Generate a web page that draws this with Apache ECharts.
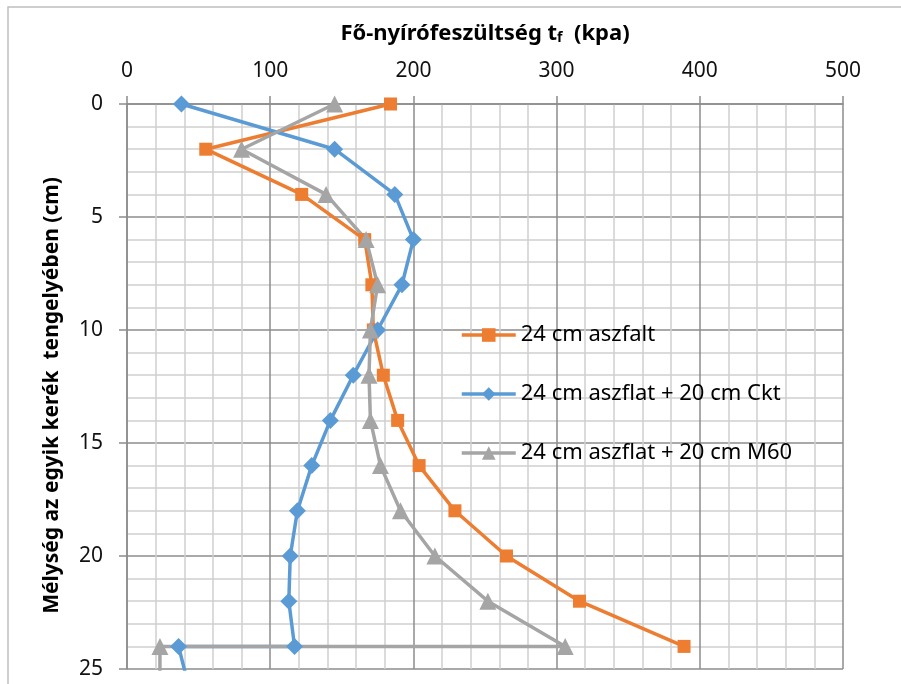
<!DOCTYPE html>
<html>
<head>
<meta charset="utf-8">
<script src="https://cdn.jsdelivr.net/npm/echarts@6/dist/echarts.min.js"></script>
<style>
  html, body { margin: 0; padding: 0; background: #fff; }
  #chart { width: 901px; height: 684px; }
</style>
</head>
<body>
<div id="chart"></div>
<script>
// mélység (cm) és nyírófeszültség (kpa) értékek
var depthAszfalt = [0, 2, 4, 6, 8, 10, 12, 14, 16, 18, 20, 22, 24];
var valAszfalt   = [184, 55, 122, 166, 171, 172, 179, 189, 204, 229, 265, 316, 389];

var depthCkt = [0, 2, 4, 6, 8, 10, 12, 14, 16, 18, 20, 22, 24, 24, 26];
var valCkt   = [38, 145, 187, 200, 192, 175, 158, 142, 129, 119, 114, 113, 117, 36, 44];

var depthM60 = [0, 2, 4, 6, 8, 10, 12, 14, 16, 18, 20, 22, 24, 24, 26];
var valM60   = [145, 80, 139, 167, 175, 170, 169, 170, 177, 191, 215, 252, 306, 23, 23];

var seriesNames = ['24 cm aszfalt', '24 cm aszflat + 20 cm Ckt', '24 cm aszflat + 20 cm M60'];
var myColor = ['#ED7D31', '#5B9BD5', '#A5A5A5'];

function pairs(vals, depths) {
  return vals.map(function (v, i) { return [v, depths[i]]; });
}

var fontFam = '"Noto Sans", sans-serif';

var chart = echarts.init(document.getElementById('chart'));
chart.setOption({
  animation: false,
  color: myColor,
  graphic: [{
    type: 'polyline',
    shape: { points: [[8, 684], [8, 7], [901, 7]] },
    style: { stroke: '#bfbfbf', lineWidth: 1.5, fill: null }
  }],
  grid: {
    left: 127,
    top: 104,
    width: 716,
    height: 565
  },
  legend: {
    orient: 'vertical',
    left: 455,
    top: 316,
    itemWidth: 54,
    itemHeight: 17,
    itemGap: 31,
    lineStyle: { width: 3.5 },
    textStyle: { fontFamily: fontFam, fontSize: 22, color: '#000', lineHeight: 28 },
    data: seriesNames
  },
  xAxis: {
    type: 'value',
    position: 'top',
    min: 0,
    max: 500,
    interval: 100,
    name: 'Fő-nyírófeszültség t{sub|f}  (kpa)',
    nameLocation: 'middle',
    nameGap: 59,
    nameTextStyle: {
      fontFamily: fontFam, fontSize: 22, fontWeight: 'bold', color: '#000',
      rich: {
        sub: { fontFamily: fontFam, fontSize: 14, fontWeight: 'bold', color: '#000', verticalAlign: 'bottom', padding: [9, 0, 0, 0] }
      }
    },
    axisLine: { show: true, lineStyle: { color: '#8c8c8c', width: 1.5 } },
    axisTick: { show: true, inside: false, length: 8, lineStyle: { color: '#8c8c8c', width: 1.5 } },
    axisLabel: { fontFamily: fontFam, fontSize: 21, color: '#111', margin: 22 },
    splitLine: { show: true, lineStyle: { color: '#8c8c8c', width: 1.5 } },
    minorTick: { show: false, splitNumber: 5 },
    minorSplitLine: { show: true, lineStyle: { color: '#cfcfcf', width: 1.5 } }
  },
  yAxis: {
    type: 'value',
    inverse: true,
    min: 0,
    max: 25,
    interval: 5,
    name: 'Mélység az egyik kerék  tengelyében (cm)',
    nameLocation: 'middle',
    nameGap: 64,
    nameRotate: 90,
    nameTextStyle: {
      fontFamily: fontFam, fontSize: 21, fontWeight: 'bold', color: '#000',
      padding: [0, 18, 0, 0]
    },
    axisLine: { show: true, lineStyle: { color: '#8c8c8c', width: 1.5 } },
    axisTick: { show: true, inside: false, length: 8, lineStyle: { color: '#8c8c8c', width: 1.5 } },
    axisLabel: { fontFamily: fontFam, fontSize: 21, color: '#111', margin: 24 },
    splitLine: { show: true, lineStyle: { color: '#8c8c8c', width: 1.5 } },
    minorTick: { show: false, splitNumber: 5 },
    minorSplitLine: { show: true, lineStyle: { color: '#cfcfcf', width: 1.5 } }
  },
  series: [{
    name: seriesNames[0],
    type: 'line',
    data: pairs(valAszfalt, depthAszfalt),
    symbol: 'rect',
    symbolSize: 13,
    lineStyle: { width: 3.5 },
    itemStyle: { color: myColor[0] },
    clip: true
  }, {
    name: seriesNames[1],
    type: 'line',
    data: pairs(valCkt, depthCkt),
    symbol: 'diamond',
    symbolSize: 17,
    lineStyle: { width: 3.5 },
    itemStyle: { color: myColor[1] },
    clip: true
  }, {
    name: seriesNames[2],
    type: 'line',
    data: pairs(valM60, depthM60),
    symbol: 'triangle',
    symbolSize: 17,
    lineStyle: { width: 3.5 },
    itemStyle: { color: myColor[2] },
    clip: true
  }]
});
</script>
</body>
</html>
